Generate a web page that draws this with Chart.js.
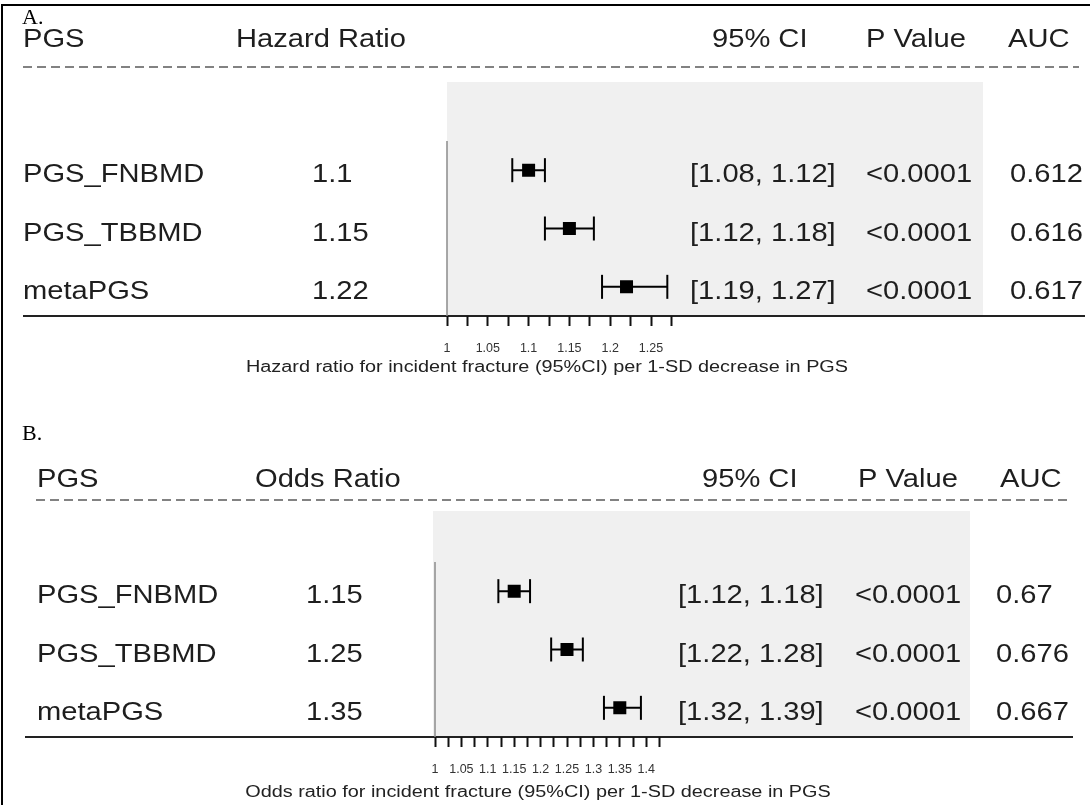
<!DOCTYPE html>
<html>
<head>
<meta charset="utf-8">
<script src="https://cdn.jsdelivr.net/npm/chart.js@4.4.1/dist/chart.umd.min.js"></script>
<style>
  html, body { margin: 0; padding: 0; background: #fff; }
  #page { position: relative; width: 1090px; height: 805px; overflow: hidden; }
  #page canvas { position: absolute; left: 0; }
  #frame { position: absolute; left: 1px; top: 4px; width: 1200px; height: 900px;
           border-top: 2px solid #000; border-left: 2px solid #000; pointer-events: none; }
</style>
</head>
<body>
<div id="page">
  <canvas id="panelA" width="1090" height="402" style="top:0"></canvas>
  <canvas id="panelB" width="1090" height="403" style="top:402px"></canvas>
  <div id="frame"></div>
</div>
<script>
// ---- data ----
const scoreNames = ['PGS_FNBMD', 'PGS_TBBMD', 'metaPGS'];

const hazardRatio = [1.1, 1.15, 1.22];
const hazardLower = [1.08, 1.12, 1.19];
const hazardUpper = [1.12, 1.18, 1.27];
const hazardPValue = ['<0.0001', '<0.0001', '<0.0001'];
const hazardAUC = ['0.612', '0.616', '0.617'];

const oddsRatio = [1.15, 1.25, 1.35];
const oddsLower = [1.12, 1.22, 1.32];
const oddsUpper = [1.18, 1.28, 1.39];
const oddsPValue = ['<0.0001', '<0.0001', '<0.0001'];
const oddsAUC = ['0.67', '0.676', '0.667'];

const hazardHeaders = ['PGS', 'Hazard Ratio', '95% CI', 'P Value', 'AUC'];
const oddsHeaders = ['PGS', 'Odds Ratio', '95% CI', 'P Value', 'AUC'];

const hazardTicks = [1, 1.025, 1.05, 1.075, 1.1, 1.125, 1.15, 1.175, 1.2, 1.225, 1.25, 1.275];
const hazardTickLabels = ['1', '', '1.05', '', '1.1', '', '1.15', '', '1.2', '', '1.25', ''];
const oddsTicks = [1, 1.025, 1.05, 1.075, 1.1, 1.125, 1.15, 1.175, 1.2, 1.225, 1.25, 1.275,
                   1.3, 1.325, 1.35, 1.375, 1.4, 1.425];
const oddsTickLabels = ['1', '', '1.05', '', '1.1', '', '1.15', '', '1.2', '', '1.25', '',
                        '1.3', '', '1.35', '', '1.4', ''];

const hazardTitle = 'Hazard ratio for incident fracture (95%CI) per 1-SD decrease in PGS';
const oddsTitle = 'Odds ratio for incident fracture (95%CI) per 1-SD decrease in PGS';

// ---- layout of each panel (canvas-local pixels) ----
const layoutA = {
  canvasH: 402, plotLeft: 447, plotRight: 671.4, plotTop: 141, plotBottom: 316,
  label: 'A.', labelX: 22, labelY: 24,
  headerY: 47, headerX: [23, 236, 712, 866, 1008],
  dashY: 67, dashX: [23, 1079],
  shadeX: [447, 983], shadeTop: 82,
  ruleX: [23, 1085],
  colX: { name: 23, est: 312, ci: 690, p: 866, auc: 1010 },
  tickPad: 15, titleX: 547, titleY: 372
};
const layoutB = {
  canvasH: 403, plotLeft: 435, plotRight: 659.4, plotTop: 160, plotBottom: 335,
  label: 'B.', labelX: 22, labelY: 38,
  headerY: 85, headerX: [37, 255, 702, 858, 1000],
  dashY: 98, dashX: [36, 1070],
  shadeX: [433, 970], shadeTop: 109,
  ruleX: [25, 1073],
  colX: { name: 37, est: 306, ci: 678, p: 855, auc: 996 },
  tickPad: 15, titleX: 538, titleY: 395
};

const SANS = '"Liberation Sans", Arial, sans-serif';
const TEXT_COLOR = '#1e1e1e';

function drawText(ctx, s, x, y, size, opts = {}) {
  ctx.save();
  ctx.font = `${size}px ${opts.family || SANS}`;
  ctx.fillStyle = opts.color || TEXT_COLOR;
  ctx.textBaseline = 'alphabetic';
  ctx.textAlign = opts.align || 'left';
  ctx.translate(x, y);
  ctx.scale(opts.sx || 1.12, 1);
  ctx.fillText(s, 0, 0);
  ctx.restore();
}

function tablePlugin(lay, headers, est, lo, hi, pv, auc, title) {
  return {
    id: 'forestTable',
    beforeDraw(chart) {
      const ctx = chart.ctx;
      const yScale = chart.scales.y;
      const area = chart.chartArea;

      // shaded plotting band
      ctx.save();
      ctx.fillStyle = '#f0f0f0';
      ctx.fillRect(lay.shadeX[0], lay.shadeTop, lay.shadeX[1] - lay.shadeX[0], area.bottom - lay.shadeTop);
      ctx.restore();

      // panel letter
      drawText(ctx, lay.label, lay.labelX, lay.labelY, 22,
               { family: '"Liberation Serif", "Times New Roman", serif', color: '#000', sx: 1 });

      // header row
      headers.forEach((h, i) => drawText(ctx, h, lay.headerX[i], lay.headerY, 26));

      // dashed separator under the header
      ctx.save();
      ctx.strokeStyle = '#5a5a5a';
      ctx.lineWidth = 1.6;
      ctx.setLineDash([9, 5]);
      ctx.beginPath();
      ctx.moveTo(lay.dashX[0], lay.dashY);
      ctx.lineTo(lay.dashX[1], lay.dashY);
      ctx.stroke();
      ctx.restore();

      // table rows
      scoreNames.forEach((name, i) => {
        const y = yScale.getPixelForValue(i + 1) + 12;
        drawText(ctx, name, lay.colX.name, y, 26);
        drawText(ctx, String(est[i]), lay.colX.est, y, 26);
        drawText(ctx, `[${lo[i].toFixed(2)}, ${hi[i].toFixed(2)}]`, lay.colX.ci, y, 26);
        drawText(ctx, pv[i], lay.colX.p, y, 26);
        drawText(ctx, auc[i], lay.colX.auc, y, 26);
      });

      // bottom rule (also serves as the x axis line)
      ctx.save();
      ctx.strokeStyle = '#222';
      ctx.lineWidth = 2;
      ctx.beginPath();
      ctx.moveTo(lay.ruleX[0], area.bottom);
      ctx.lineTo(lay.ruleX[1], area.bottom);
      ctx.stroke();
      ctx.restore();

      // axis title
      drawText(ctx, title, lay.titleX, lay.titleY, 16, { align: 'center', color: '#222', sx: 1.24 });
    }
  };
}

function buildPanel(id, lay, headers, est, lo, hi, pv, auc, ticks, tickLabels, title) {
  const rows = est.map((v, i) => i + 1);
  const datasets = [
    {
      label: 'estimate',
      data: est.map((v, i) => ({ x: v, y: rows[i] })),
      showLine: false,
      pointStyle: 'rect',
      pointRadius: 9.2,
      pointBackgroundColor: '#000',
      pointBorderWidth: 0
    },
    ...lo.map((l, i) => ({
      label: 'ci' + i,
      data: [{ x: l, y: rows[i] }, { x: hi[i], y: rows[i] }],
      showLine: true,
      borderColor: '#000',
      borderWidth: 2,
      pointStyle: 'line',
      pointRotation: 90,
      pointRadius: 12,
      pointBorderColor: '#000',
      pointBorderWidth: 2,
      clip: false
    })),
    {
      label: 'reference',
      data: [{ x: ticks[0], y: 0.5 }, { x: ticks[0], y: 3.5 }],
      showLine: true,
      borderColor: '#8c8c8c',
      borderWidth: 1.5,
      pointRadius: 0,
      clip: false
    }
  ];

  return new Chart(document.getElementById(id), {
    type: 'scatter',
    data: { datasets },
    options: {
      responsive: false,
      animation: false,
      devicePixelRatio: 1,
      events: [],
      layout: { padding: { left: lay.plotLeft, right: 1090 - lay.plotRight, top: lay.plotTop, bottom: 0 } },
      plugins: { legend: { display: false }, tooltip: { enabled: false } },
      scales: {
        x: {
          type: 'linear',
          min: ticks[0],
          max: ticks[ticks.length - 1],
          afterBuildTicks: s => { s.ticks = ticks.map(v => ({ value: v })); },
          afterFit: s => { s.height = lay.canvasH - lay.plotBottom; },
          border: { display: false },
          grid: { drawOnChartArea: false, drawTicks: true, tickLength: 10, tickWidth: 2, tickColor: '#111' },
          ticks: {
            autoSkip: false, maxRotation: 0, minRotation: 0,
            padding: lay.tickPad,
            color: '#333',
            font: { family: SANS, size: 12.5 },
            callback: (v, i) => tickLabels[i]
          }
        },
        y: { display: false, min: 0.5, max: 3.5, reverse: true }
      }
    },
    plugins: [tablePlugin(lay, headers, est, lo, hi, pv, auc, title)]
  });
}

buildPanel('panelA', layoutA, hazardHeaders, hazardRatio, hazardLower, hazardUpper,
           hazardPValue, hazardAUC, hazardTicks, hazardTickLabels, hazardTitle);
buildPanel('panelB', layoutB, oddsHeaders, oddsRatio, oddsLower, oddsUpper,
           oddsPValue, oddsAUC, oddsTicks, oddsTickLabels, oddsTitle);
</script>
</body>
</html>
